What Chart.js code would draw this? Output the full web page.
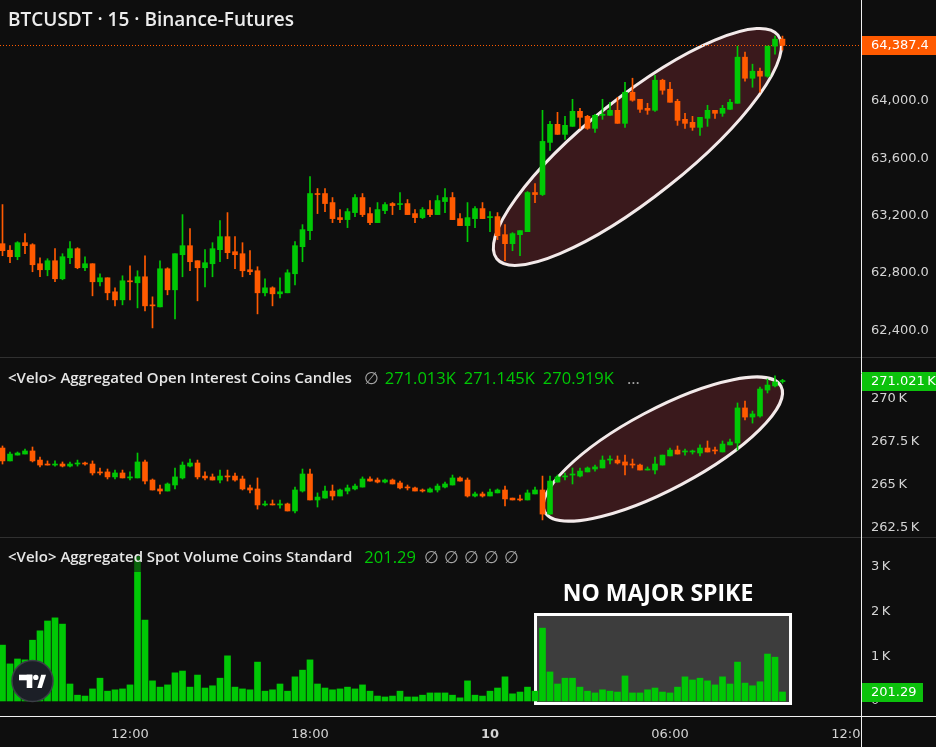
<!DOCTYPE html>
<html>
<head>
<meta charset="utf-8">
<script src="https://cdn.jsdelivr.net/npm/chart.js"></script>
<style>
  html, body { margin: 0; padding: 0; background: #0e0e0e; }
  canvas { display: block; }
</style>
</head>
<body>
<canvas id="grafico" width="936" height="747"></canvas>
<script>
// Velas de 15 minutos, desde las 07:45 del día 9 hasta las 09:45 del día 10 (índice 0 a 104)

// Precio BTCUSDT
const precioApertura = [
  63004, 62958, 62913, 63011, 62997, 62864, 62822, 62885, 62759, 62906,
  62969, 62836, 62864, 62738, 62766, 62668, 62612, 62745, 62731, 62773,
  62577, 62563, 62829, 62682, 62927, 62990, 62885, 62836, 62864, 62962,
  63053, 62948, 62934, 62822, 62815, 62661, 62696, 62654, 62661, 62794,
  62983, 63095, 63354, 63354, 63291, 63186, 63172, 63221, 63326, 63214,
  63151, 63235, 63284, 63277, 63284, 63214, 63186, 63242, 63207, 63298,
  63326, 63179, 63130, 63179, 63249, 63186, 63193, 63067, 63004, 63067,
  63088, 63361, 63347, 63711, 63837, 63767, 63823, 63928, 63893, 63809,
  63900, 63900, 63935, 63844, 64061, 64012, 63949, 63935, 64145, 64082,
  63998, 63872, 63851, 63816, 63879, 63935, 63914, 63942, 63984, 64306,
  64159, 64208, 64173, 64383, 64432
]
const precioMaximo = [
  63277, 62990, 63018, 63074, 63004, 62906, 62899, 62969, 62934, 63018,
  62976, 62913, 62864, 62794, 62766, 62696, 62780, 62850, 62815, 62920,
  62633, 62885, 62836, 62934, 63207, 63109, 62885, 62962, 63011, 63165,
  63221, 63053, 63011, 62955, 62843, 62759, 62703, 62766, 62822, 63018,
  63137, 63473, 63389, 63389, 63326, 63242, 63249, 63347, 63354, 63256,
  63291, 63291, 63291, 63361, 63312, 63242, 63256, 63305, 63340, 63389,
  63361, 63214, 63291, 63263, 63291, 63228, 63221, 63137, 63081, 63095,
  63368, 63424, 63935, 63858, 63921, 63893, 64012, 63949, 63900, 63907,
  64012, 63991, 64026, 64131, 64159, 64012, 63984, 64180, 64152, 64131,
  64012, 63914, 63893, 63886, 63970, 63935, 63970, 64012, 64383, 64341,
  64257, 64229, 64383, 64453, 64453
]
const precioMinimo = [
  62920, 62871, 62892, 62934, 62808, 62773, 62780, 62738, 62752, 62864,
  62829, 62815, 62640, 62710, 62612, 62570, 62577, 62612, 62556, 62535,
  62416, 62563, 62647, 62479, 62773, 62815, 62605, 62703, 62773, 62878,
  62899, 62829, 62773, 62787, 62514, 62640, 62570, 62626, 62661, 62717,
  62878, 63032, 63214, 63228, 63151, 63151, 63116, 63193, 63193, 63137,
  63151, 63214, 63207, 63242, 63207, 63151, 63179, 63193, 63207, 63221,
  63172, 63130, 63018, 63116, 63179, 63088, 63032, 62885, 62955, 62920,
  63088, 63291, 63340, 63655, 63767, 63732, 63823, 63809, 63802, 63781,
  63872, 63900, 63844, 63816, 63998, 63921, 63907, 63928, 64047, 63991,
  63830, 63809, 63795, 63760, 63823, 63879, 63893, 63942, 63984, 64138,
  64096, 64061, 64166, 64327, 64355
]
const precioCierre = [
  62955, 62913, 63011, 62990, 62857, 62822, 62885, 62759, 62913, 62969,
  62836, 62864, 62738, 62766, 62661, 62612, 62745, 62738, 62773, 62570,
  62570, 62829, 62682, 62934, 62990, 62878, 62836, 62871, 62969, 63053,
  62941, 62927, 62815, 62808, 62661, 62696, 62654, 62668, 62801, 62990,
  63102, 63354, 63347, 63284, 63179, 63172, 63228, 63326, 63207, 63151,
  63242, 63277, 63270, 63284, 63207, 63186, 63242, 63207, 63305, 63326,
  63172, 63130, 63186, 63249, 63179, 63193, 63060, 63004, 63074, 63095,
  63361, 63347, 63718, 63837, 63767, 63830, 63928, 63886, 63809, 63900,
  63907, 63935, 63844, 64061, 64005, 63942, 63935, 64145, 64075, 63991,
  63865, 63844, 63816, 63886, 63935, 63914, 63949, 63991, 64306, 64159,
  64208, 64173, 64383, 64432, 64387.4
]

// Open interest agregado (en miles de monedas)
const oiApertura = [
  267.15, 266.40, 266.74, 266.80, 266.98, 266.45, 266.22, 266.16, 266.22, 266.10,
  266.22, 266.28, 266.22, 265.76, 265.76, 265.47, 265.70, 265.41, 265.41, 266.34,
  265.29, 264.77, 264.65, 265.00, 265.41, 266.10, 266.28, 265.52, 265.47, 265.29,
  265.52, 265.52, 265.35, 264.83, 264.77, 263.84, 263.90, 263.84, 263.90, 263.49,
  264.65, 265.64, 264.13, 264.24, 264.65, 264.36, 264.65, 264.77, 264.88, 265.35,
  265.29, 265.17, 265.29, 265.12, 264.88, 264.83, 264.71, 264.59, 264.71, 264.88,
  265.00, 265.41, 265.29, 264.36, 264.48, 264.36, 264.54, 264.71, 264.24, 264.19,
  264.13, 264.48, 264.71, 263.31, 265.17, 265.47, 265.58, 265.52, 265.76, 265.93,
  265.99, 266.45, 266.45, 266.34, 266.22, 266.16, 265.87, 265.87, 266.16, 266.69,
  267.03, 266.92, 266.92, 266.86, 267.15, 267.03, 266.92, 267.33, 267.44, 269.48,
  268.95, 269.01, 270.52, 270.76, 271.013
]
const oiMaximo = [
  267.27, 266.92, 266.92, 267.09, 267.21, 266.63, 266.40, 266.40, 266.34, 266.34,
  266.45, 266.34, 266.40, 265.99, 265.93, 265.87, 265.87, 265.76, 266.86, 266.45,
  265.35, 265.00, 265.12, 265.99, 266.34, 266.51, 266.45, 265.76, 265.64, 265.87,
  265.87, 265.70, 265.52, 265.00, 265.41, 264.07, 264.13, 264.13, 263.95, 264.88,
  265.93, 265.93, 264.54, 264.94, 265.00, 264.77, 265.00, 265.06, 265.47, 265.47,
  265.41, 265.35, 265.35, 265.23, 265.00, 264.88, 264.77, 264.83, 265.06, 265.17,
  265.58, 265.47, 265.41, 264.59, 264.59, 264.77, 264.77, 264.94, 264.24, 264.42,
  264.71, 264.88, 265.52, 265.52, 265.58, 265.70, 265.99, 265.99, 266.05, 266.16,
  266.69, 266.69, 266.69, 266.74, 266.51, 266.22, 266.05, 266.63, 266.74, 267.15,
  267.27, 267.09, 267.03, 267.33, 267.56, 267.21, 267.56, 267.67, 269.77, 269.88,
  269.30, 270.70, 271.16, 271.34, 271.145
]
const oiMinimo = [
  266.22, 266.40, 266.74, 266.80, 266.34, 266.05, 266.16, 266.10, 266.05, 266.05,
  266.10, 266.16, 265.58, 265.58, 265.35, 265.35, 265.41, 265.29, 265.41, 265.06,
  264.71, 264.48, 264.65, 264.77, 265.35, 266.05, 265.35, 265.29, 265.29, 265.12,
  265.23, 265.23, 264.71, 264.54, 263.60, 263.78, 263.84, 263.66, 263.49, 263.37,
  264.59, 264.13, 263.72, 264.24, 264.13, 264.36, 264.48, 264.71, 264.88, 265.23,
  265.12, 265.12, 265.06, 264.77, 264.71, 264.65, 264.59, 264.59, 264.59, 264.83,
  265.00, 265.23, 264.30, 264.30, 264.30, 264.36, 264.54, 263.78, 264.13, 264.07,
  264.13, 264.48, 262.97, 263.31, 265.17, 265.29, 265.06, 265.47, 265.76, 265.81,
  265.99, 266.22, 266.22, 265.58, 265.99, 265.87, 265.87, 265.64, 266.16, 266.69,
  266.80, 266.74, 266.80, 266.69, 266.92, 266.80, 266.92, 267.33, 267.03, 268.78,
  268.60, 268.95, 270.35, 270.70, 270.919
]
const oiCierre = [
  266.40, 266.80, 266.86, 266.98, 266.40, 266.16, 266.16, 266.22, 266.10, 266.22,
  266.28, 266.22, 265.70, 265.70, 265.47, 265.70, 265.41, 265.47, 266.34, 265.23,
  264.71, 264.65, 265.06, 265.47, 266.16, 266.28, 265.47, 265.41, 265.29, 265.52,
  265.47, 265.29, 264.77, 264.71, 263.84, 263.90, 263.84, 263.90, 263.49, 264.71,
  265.64, 264.13, 264.30, 264.65, 264.36, 264.71, 264.83, 264.94, 265.35, 265.23,
  265.17, 265.29, 265.06, 264.83, 264.83, 264.65, 264.65, 264.77, 264.94, 265.06,
  265.41, 265.23, 264.36, 264.48, 264.36, 264.59, 264.71, 264.19, 264.13, 264.13,
  264.54, 264.71, 263.31, 265.23, 265.47, 265.52, 265.64, 265.81, 265.99, 266.05,
  266.45, 266.51, 266.28, 266.16, 266.16, 265.87, 265.93, 266.22, 266.74, 267.03,
  266.80, 266.98, 266.98, 267.15, 266.92, 266.98, 267.38, 267.50, 269.48, 268.95,
  269.13, 270.58, 270.81, 270.99, 271.021
]

// Volumen spot agregado (monedas)
const volumen = [
  1250, 830, 940, 920, 1360, 1570, 1790, 1860, 1720, 380,
  130, 110, 270, 510, 220, 250, 270, 360, 3230, 1810,
  450, 310, 360, 630, 670, 310, 580, 290, 340, 510,
  1010, 310, 270, 250, 870, 220, 250, 380, 220, 540,
  690, 920, 380, 290, 250, 270, 310, 270, 360, 220,
  110, 90, 110, 220, 90, 90, 130, 180, 180, 180,
  130, 70, 450, 130, 110, 220, 290, 540, 160, 200,
  310, 220, 1630, 650, 380, 510, 510, 310, 220, 180,
  250, 220, 200, 560, 180, 180, 250, 290, 200, 180,
  310, 540, 470, 510, 450, 360, 540, 380, 870, 400,
  340, 430, 1050, 980, 201.29
]

// Marcas del eje de tiempo (índice de vela) y de los ejes verticales
const indicesTiempo = [17, 41, 65, 89, 113]
const etiquetasTiempo = ['12:00', '18:00', '10', '06:00', '12:00']
const ticksPrecio = [62400, 62800, 63200, 63600, 64000]
const ticksOI = [262.5, 265, 267.5, 270]
const ticksVol = [0, 1000, 2000, 3000]

// Anotaciones dibujadas a mano sobre el gráfico (en coordenadas de datos)
const elipsePrecio = { desde: [65.9, 62899], hasta: [103.4, 64460], radioMenor: 50, eje: 'yPrecio' }
const elipseOI = { desde: [72.3, 263.44], hasta: [103.8, 270.74], radioMenor: 40, eje: 'yOI' }
const cajaVolumen = { x: [71.07, 105.07], y: [1935, -56] }
const textoCaja = 'NO MAJOR SPIKE'

const verde = '#00c805'
const naranja = '#ff5a00'
const fondo = '#0e0e0e'
const colorTicks = '#d4d4d4'

const indices = precioCierre.map((_, i) => i)
const colores = (ap, ci) => ap.map((a, i) => ci[i] >= a ? verde : naranja) // Verde si cierra arriba

// Una vela = una barra fina (mecha) + una barra ancha (cuerpo)
const mechas = (min, max, eje, color) => ({
  data: indices.map(i => ({ x: i, y: [min[i], max[i]] })),
  yAxisID: eje, backgroundColor: color, barThickness: 1, grouped: false, order: 2
})
const cuerpos = (ap, ci, eje, color) => ({
  data: indices.map(i => ({ x: i, y: [ap[i], ci[i]] })),
  yAxisID: eje, backgroundColor: color, barThickness: 5, minBarLength: 1, grouped: false, order: 1
})

const coloresPrecio = colores(precioApertura, precioCierre)
const coloresOI = colores(oiApertura, oiCierre)

const fuenteEje = { family: 'DejaVu Sans', size: 13 }

const ejeVertical = (peso, min, max, ticks, formato) => ({
  type: 'linear', position: 'right', stack: 'paneles', stackWeight: peso, min, max,
  grid: { display: false, drawTicks: false }, border: { display: false },
  afterBuildTicks: (e) => { e.ticks = ticks.map(v => ({ value: v })) },
  afterFit: (e) => { e.width = 75; e.paddingTop = 0; e.paddingBottom = 0 },
  ticks: { autoSkip: false, padding: 10, color: colorTicks, font: fuenteEje, callback: formato }
})

const formatoPrecio = (v) => v.toLocaleString('en-US', { minimumFractionDigits: 1, maximumFractionDigits: 1 })

// Dibujos extra: fondo, elipses, caja, leyendas y etiquetas del eje
const dibujos = {
  id: 'dibujos',
  beforeDraw(chart) {
    const ctx = chart.ctx
    ctx.save()
    ctx.fillStyle = fondo
    ctx.fillRect(0, 0, chart.width, chart.height)
    ctx.restore()
  },
  beforeDatasetsDraw(chart) {
    const { ctx, scales } = chart
    const ex = scales.x
    ctx.save()

    // Elipses resaltando la subida
    ;[elipsePrecio, elipseOI].forEach(el => {
      const ey = scales[el.eje]
      const x1 = ex.getPixelForValue(el.desde[0]), y1 = ey.getPixelForValue(el.desde[1])
      const x2 = ex.getPixelForValue(el.hasta[0]), y2 = ey.getPixelForValue(el.hasta[1])
      ctx.beginPath()
      ctx.ellipse((x1 + x2) / 2, (y1 + y2) / 2, Math.hypot(x2 - x1, y2 - y1) / 2, el.radioMenor,
        Math.atan2(y2 - y1, x2 - x1), 0, Math.PI * 2)
      ctx.fillStyle = '#3a191c'
      ctx.fill()
      ctx.lineWidth = 3
      ctx.strokeStyle = '#f3eaea'
      ctx.stroke()
    })

    // Caja gris en el volumen
    const ey = scales.yVol
    const cx1 = ex.getPixelForValue(cajaVolumen.x[0]), cx2 = ex.getPixelForValue(cajaVolumen.x[1])
    const cy1 = ey.getPixelForValue(cajaVolumen.y[0]), cy2 = ey.getPixelForValue(cajaVolumen.y[1])
    ctx.fillStyle = '#3d3d3d'
    ctx.fillRect(cx1, cy1, cx2 - cx1, cy2 - cy1)
    ctx.lineWidth = 3
    ctx.strokeStyle = '#ffffff'
    ctx.strokeRect(cx1, cy1, cx2 - cx1, cy2 - cy1)

    // Línea punteada del último precio
    const yp = Math.round(scales.yPrecio.getPixelForValue(precioCierre[precioCierre.length - 1])) + 0.5
    ctx.setLineDash([1, 2])
    ctx.lineWidth = 1
    ctx.strokeStyle = naranja
    ctx.beginPath()
    ctx.moveTo(0, yp)
    ctx.lineTo(chart.chartArea.right, yp)
    ctx.stroke()
    ctx.restore()
  },
  afterDraw(chart) {
    const { ctx, scales, chartArea } = chart
    const ex = scales.x
    const ultimo = precioCierre.length - 1
    ctx.save()
    ctx.textBaseline = 'middle'
    ctx.textAlign = 'left'

    // Texto escrito en partes seguidas
    const escribir = (partes, x, y) => {
      partes.forEach(([texto, color, fuente, separacion]) => {
        ctx.font = fuente
        ctx.fillStyle = color
        ctx.fillText(texto, x, y)
        x += ctx.measureText(texto).width + separacion
      })
    }

    const fuenteNombre = '600 15px "Open Sans"'
    const fuenteValor = '500 16.5px "Open Sans"'
    const gris = '#a5a5a5'
    const k = (v) => v.toFixed(3) + 'K'

    // Título
    escribir([['BTCUSDT · 15 · Binance-Futures', '#ececec', '600 19px "Open Sans"', 0]], 8, 21)

    // Leyenda del open interest
    const oiY = scales.yOI.top + 22
    escribir([
      ['<Velo> Aggregated Open Interest Coins Candles', '#e6e6e6', fuenteNombre, 12],
      ['∅', gris, fuenteValor, 6],
      [k(oiApertura[ultimo]), verde, fuenteValor, 8],
      [k(oiMaximo[ultimo]), verde, fuenteValor, 8],
      [k(oiMinimo[ultimo]), verde, fuenteValor, 13],
      ['...', gris, fuenteValor, 0]
    ], 8, oiY)

    // Leyenda del volumen (con fondo semitransparente)
    const volY = scales.yVol.top + 21
    ctx.fillStyle = 'rgba(14,14,14,0.55)'
    ctx.fillRect(0, volY - 11, 515, 25)
    escribir([
      ['<Velo> Aggregated Spot Volume Coins Standard', '#e6e6e6', fuenteNombre, 12],
      [volumen[ultimo].toFixed(2), verde, fuenteValor, 8],
      ['∅', gris, fuenteValor, 5], ['∅', gris, fuenteValor, 5], ['∅', gris, fuenteValor, 5],
      ['∅', gris, fuenteValor, 5], ['∅', gris, fuenteValor, 0]
    ], 8, volY)

    // Texto sobre la caja
    const cx1 = ex.getPixelForValue(cajaVolumen.x[0]), cx2 = ex.getPixelForValue(cajaVolumen.x[1])
    const cy1 = scales.yVol.getPixelForValue(cajaVolumen.y[0])
    ctx.textAlign = 'center'
    ctx.font = '700 23px "Open Sans"'
    ctx.fillStyle = '#ffffff'
    ctx.fillText(textoCaja, (cx1 + cx2) / 2 - 5, cy1 - 20)
    ctx.textAlign = 'left'

    // Logo redondo abajo a la izquierda
    ctx.beginPath()
    ctx.arc(32.5, 681, 20.5, 0, Math.PI * 2)
    ctx.fillStyle = '#1c1f27'
    ctx.fill()
    ctx.lineWidth = 1.5
    ctx.strokeStyle = '#3b3e46'
    ctx.stroke()
    ctx.fillStyle = '#ffffff'
    ctx.fillRect(19, 674.7, 13.3, 5.6)
    ctx.fillRect(26.7, 674.7, 5.6, 13.3)
    ctx.beginPath()
    ctx.arc(35.8, 677.4, 2.7, 0, Math.PI * 2)
    ctx.fill()
    ctx.beginPath()
    ctx.moveTo(37.3, 688)
    ctx.lineTo(41.8, 688)
    ctx.lineTo(46, 674.7)
    ctx.lineTo(41.2, 674.7)
    ctx.closePath()
    ctx.fill()

    // Separadores entre paneles
    ctx.strokeStyle = '#303030'
    ctx.lineWidth = 1
    ;[scales.yOI.top, scales.yVol.top].forEach(y => {
      ctx.beginPath()
      ctx.moveTo(0, Math.round(y) + 0.5)
      ctx.lineTo(chart.width, Math.round(y) + 0.5)
      ctx.stroke()
    })

    // Tapa la parte de la última hora que cae bajo el eje de precios
    ctx.fillStyle = fondo
    ctx.fillRect(chartArea.right + 1, chartArea.bottom + 1, chart.width - chartArea.right, chart.height - chartArea.bottom)

    // Bordes blancos
    ctx.strokeStyle = '#f0f0f0'
    ctx.beginPath()
    ctx.moveTo(chartArea.right + 0.5, 0)
    ctx.lineTo(chartArea.right + 0.5, chart.height)
    ctx.moveTo(0, chartArea.bottom + 0.5)
    ctx.lineTo(chart.width, chartArea.bottom + 0.5)
    ctx.stroke()

    // Etiquetas del último valor en el eje
    const etiqueta = (texto, y, color, ancho) => {
      const yy = Math.round(y)
      ctx.fillStyle = color
      ctx.fillRect(chartArea.right + 1, yy - 9, ancho, 19)
      ctx.fillStyle = '#ffffff'
      ctx.font = '13px "DejaVu Sans"'
      ctx.fillText(texto, chartArea.right + 10, yy + 1)
    }
    etiqueta(formatoPrecio(precioCierre[ultimo]), scales.yPrecio.getPixelForValue(precioCierre[ultimo]), naranja, 75)
    etiqueta(oiCierre[ultimo].toFixed(3) + '\u2009K', scales.yOI.getPixelForValue(oiCierre[ultimo]), '#0cc20c', 75)
    etiqueta(volumen[ultimo].toFixed(2), scales.yVol.getPixelForValue(volumen[ultimo]), '#0cc20c', 61)

    ctx.restore()
  }
}

const ctx = document.getElementById('grafico').getContext('2d')
const grafico = new Chart(ctx, {
  type: 'bar',
  data: {
    datasets: [
      mechas(precioMinimo, precioMaximo, 'yPrecio', coloresPrecio),
      cuerpos(precioApertura, precioCierre, 'yPrecio', coloresPrecio),
      mechas(oiMinimo, oiMaximo, 'yOI', coloresOI),
      cuerpos(oiApertura, oiCierre, 'yOI', coloresOI),
      {
        data: indices.map(i => ({ x: i, y: volumen[i] })),
        yAxisID: 'yVol', backgroundColor: verde, barThickness: 6, grouped: false, order: 3
      }
    ]
  },
  options: {
    responsive: false,
    animation: false,
    devicePixelRatio: 1,
    layout: { padding: 0 },
    plugins: { legend: { display: false }, tooltip: { enabled: false } },
    scales: {
      x: {
        type: 'linear', min: -1 / 3, max: 114.4667, offset: false,
        grid: { display: false, drawTicks: false, offset: false }, border: { display: false },
        afterBuildTicks: (e) => { e.ticks = indicesTiempo.map(v => ({ value: v })) },
        afterFit: (e) => { e.height = 31; e.paddingLeft = 0; e.paddingRight = 0 },
        ticks: {
          autoSkip: false, maxRotation: 0, padding: 11, color: colorTicks,
          font: (c) => ({ family: 'DejaVu Sans', size: 13, weight: etiquetasTiempo[c.index] === '10' ? 'bold' : 'normal' }),
          callback: (v, i) => etiquetasTiempo[i]
        }
      },
      yPrecio: ejeVertical(357, 62213, 64705, ticksPrecio, formatoPrecio),
      yOI: ejeVertical(180, 261.977, 272.442, ticksOI, (v) => v + '\u2009K'),
      yVol: ejeVertical(179, -336, 3669, ticksVol, (v) => v === 0 ? '0' : (v / 1000) + '\u2009K')
    }
  },
  plugins: [dibujos]
})
</script>
</body>
</html>
